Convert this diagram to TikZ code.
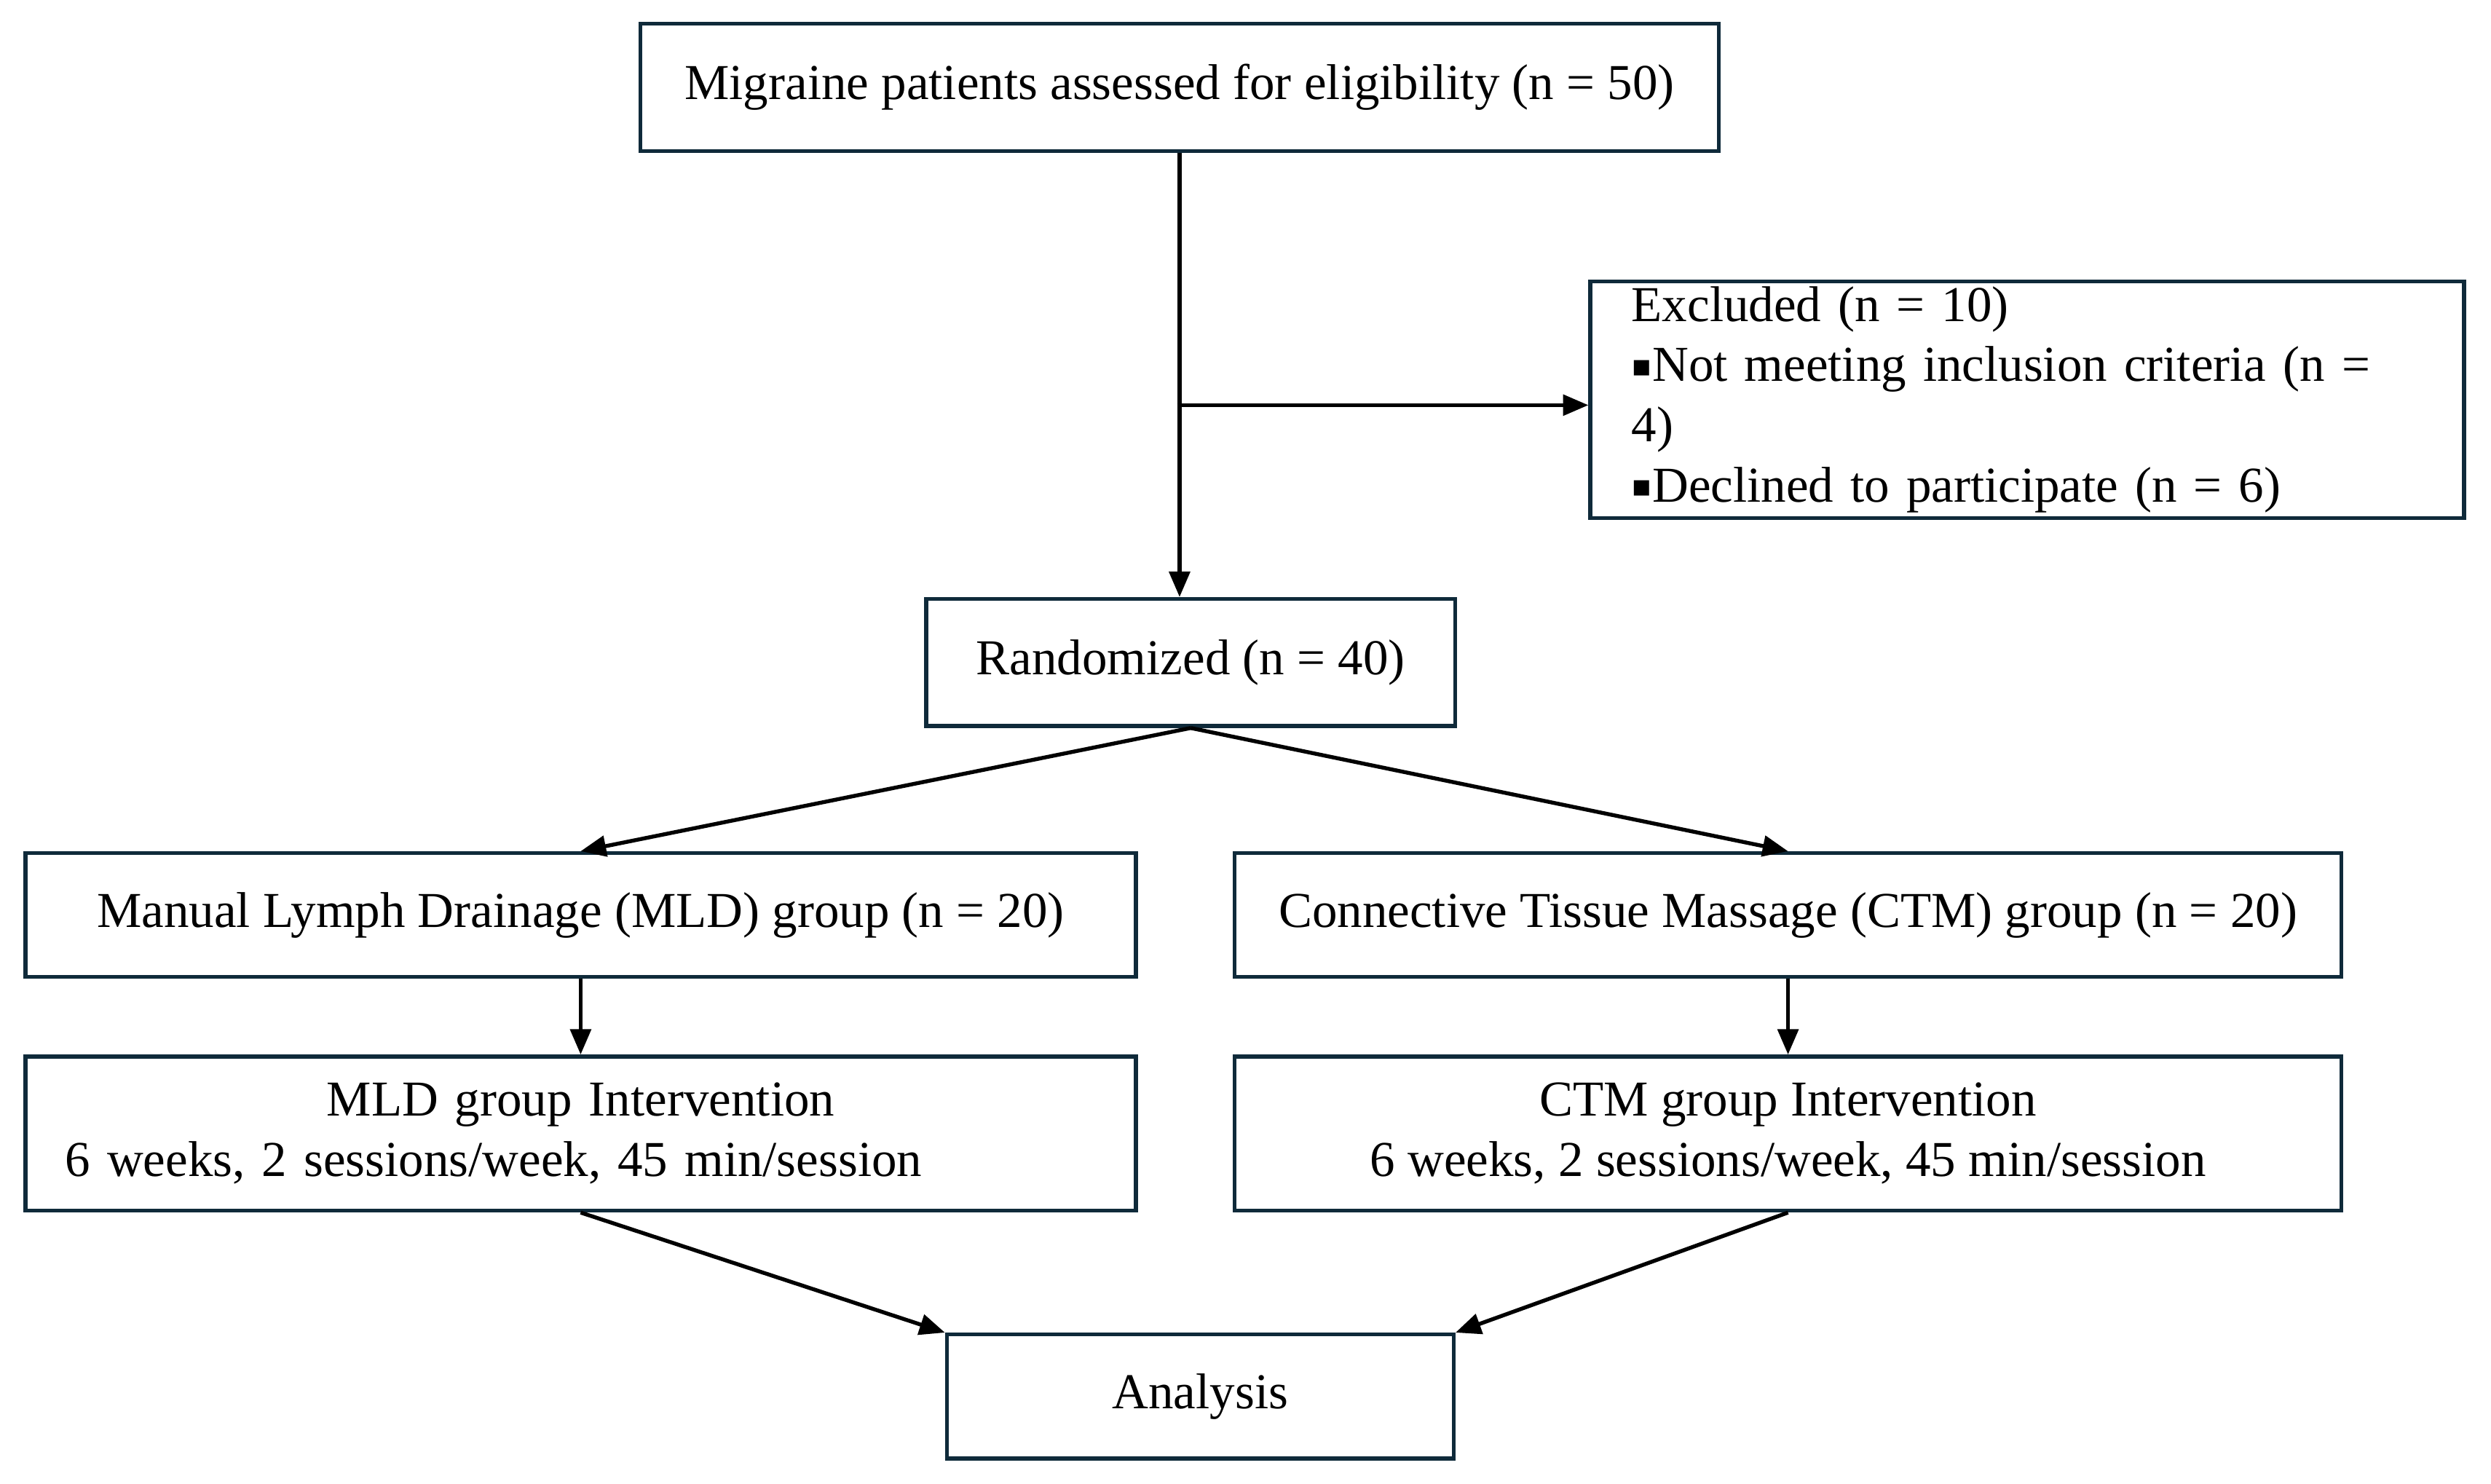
\documentclass[tikz,border=0pt]{standalone}
\usepackage{fontspec}
\setmainfont{Liberation Serif}
\newfontfamily\symfont{DejaVu Sans}
\usetikzlibrary{arrows.meta}
\definecolor{boxline}{HTML}{0F2A3A}
\newcommand{\sqbullet}{\raisebox{0.25ex}{\symfont\fontsize{11}{12}\selectfont ▪}}
\begin{document}
\begin{tikzpicture}[x=0.02cm,y=-0.02cm,
	box/.style={draw=boxline,line width=1.4pt,inner sep=0pt,font=\fontsize{18}{21.6}\selectfont},
	arr/.style={line width=1.4pt,-{Triangle[length=0.32cm,width=0.26cm]}}]

	\useasboundingbox (0,0) rectangle (1568,934);

	% boxes
	\node[box,minimum width=13.58cm,minimum height=1.6cm] (top) at (742.5,55) {Migraine patients assessed for eligibility (n = 50)};
	\node[box,minimum width=11cm,minimum height=2.98cm,align=left,text width=9.96cm,inner xsep=0.52cm] (excl) at (1276,251.5)
		{Excluded (n = 10)\\\sqbullet Not meeting inclusion criteria (n = 4)\\\sqbullet Declined to participate (n = 6)};
	\node[box,minimum width=6.66cm,minimum height=1.6cm] (rand) at (749.5,417) {Randomized (n = 40)};
	\node[box,minimum width=13.98cm,minimum height=1.56cm] (mld) at (365.5,576) {Manual Lymph Drainage (MLD) group (n = 20)};
	\node[box,minimum width=13.94cm,minimum height=1.56cm] (ctm) at (1125.5,576) {Connective Tissue Massage (CTM) group (n = 20)};
	\node[box,minimum width=13.98cm,minimum height=1.94cm,align=left,text width=12.98cm,inner xsep=0.5cm] (mldint) at (365.5,713.5)
		{\makebox[\linewidth]{MLD group Intervention}\\6 weeks, 2 sessions/week, 45 min/session};
	\node[box,minimum width=13.94cm,minimum height=1.94cm,align=center] (ctmint) at (1125.5,713.5)
		{CTM group Intervention\\6 weeks, 2 sessions/week, 45 min/session};
	\node[box,minimum width=6.38cm,minimum height=1.56cm] (ana) at (755.5,879) {Analysis};

	% connectors
	\coordinate (br) at (741,255);
	\draw[arr] (top.south) -- (top.south|-rand.north);
	\draw[arr] (br) -- (br-|excl.west);
	\draw[arr] (rand.south) -- (mld.north);
	\draw[arr] (rand.south) -- (ctm.north);
	\draw[arr] (mld.south) -- (mldint.north);
	\draw[arr] (ctm.south) -- (ctmint.north);
	\draw[arr] (mldint.south) -- (ana.north west);
	\draw[arr] (ctmint.south) -- (ana.north east);
\end{tikzpicture}
\end{document}
